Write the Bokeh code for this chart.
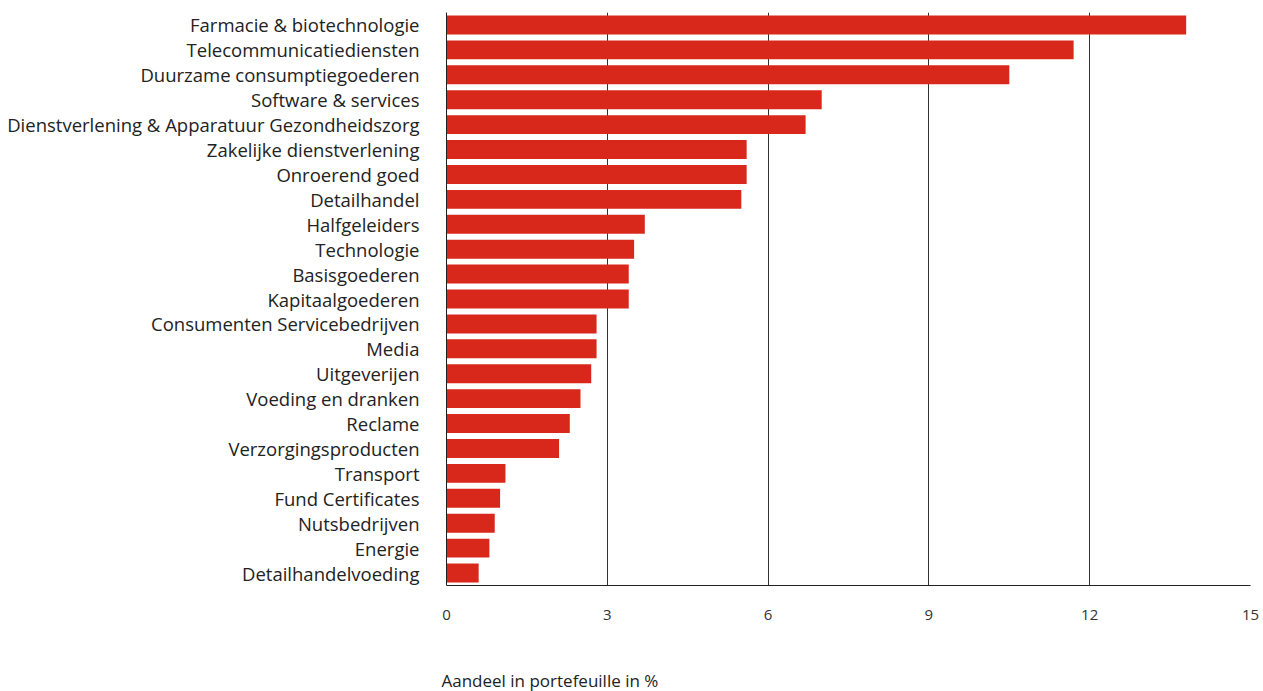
from bokeh.plotting import figure
from bokeh.embed import file_html
from bokeh.resources import INLINE
from bokeh.models import FixedTicker, Title

categories = [
    "Farmacie & biotechnologie",
    "Telecommunicatiediensten",
    "Duurzame consumptiegoederen",
    "Software & services",
    "Dienstverlening & Apparatuur Gezondheidszorg",
    "Zakelijke dienstverlening",
    "Onroerend goed",
    "Detailhandel",
    "Halfgeleiders",
    "Technologie",
    "Basisgoederen",
    "Kapitaalgoederen",
    "Consumenten Servicebedrijven",
    "Media",
    "Uitgeverijen",
    "Voeding en dranken",
    "Reclame",
    "Verzorgingsproducten",
    "Transport",
    "Fund Certificates",
    "Nutsbedrijven",
    "Energie",
    "Detailhandelvoeding",
]
values = [13.8, 11.7, 10.5, 7.0, 6.7, 5.6, 5.6, 5.5, 3.7, 3.5, 3.4, 3.4,
          2.8, 2.8, 2.7, 2.5, 2.3, 2.1, 1.1, 1.0, 0.9, 0.8, 0.6]
x_ticks = [0, 3, 6, 9, 12, 15]
axis_title = "Aandeel in portefeuille in %"

FONT = "Open Sans"

p = figure(
    y_range=list(reversed(categories)),
    x_range=(0, 15),
    width=1263, height=691,
    output_backend="svg", toolbar_location=None,
    min_border_left=446, min_border_right=13, min_border_top=12, min_border_bottom=106,
)
p.hbar(y=categories, right=values, left=0, height=0.76,
       fill_color="#D8281B", line_color=None)

p.outline_line_color = None
p.ygrid.grid_line_color = None
p.xgrid.grid_line_color = "#333333"
p.xgrid.grid_line_width = 1
p.xgrid.ticker = FixedTicker(ticks=x_ticks)
p.xaxis.ticker = FixedTicker(ticks=x_ticks)

p.xaxis.axis_line_color = "#222222"
p.xaxis.major_tick_line_color = None
p.xaxis.minor_tick_line_color = None
p.xaxis.major_label_standoff = 18
p.xaxis.major_label_text_font = FONT
p.xaxis.major_label_text_font_size = "15px"
p.xaxis.major_label_text_color = "#333333"
# empty spacer label pushes the left-aligned title further down
p.xaxis.axis_label = " "
p.xaxis.axis_label_standoff = 22
p.xaxis.axis_label_text_font_size = "17px"

p.yaxis.axis_line_color = "#222222"
p.yaxis.major_tick_line_color = None
p.yaxis.minor_tick_line_color = None
p.yaxis.major_label_standoff = 21
p.yaxis.major_label_text_font = FONT
p.yaxis.major_label_text_font_size = "18.5px"
p.yaxis.major_label_text_color = "#222222"

p.add_layout(Title(text=axis_title, align="left", text_font=FONT,
                   text_font_size="17px", text_font_style="normal",
                   text_color="#222222", offset=-5, standoff=0), "below")

open("out.html", "w").write(file_html(p, INLINE))
